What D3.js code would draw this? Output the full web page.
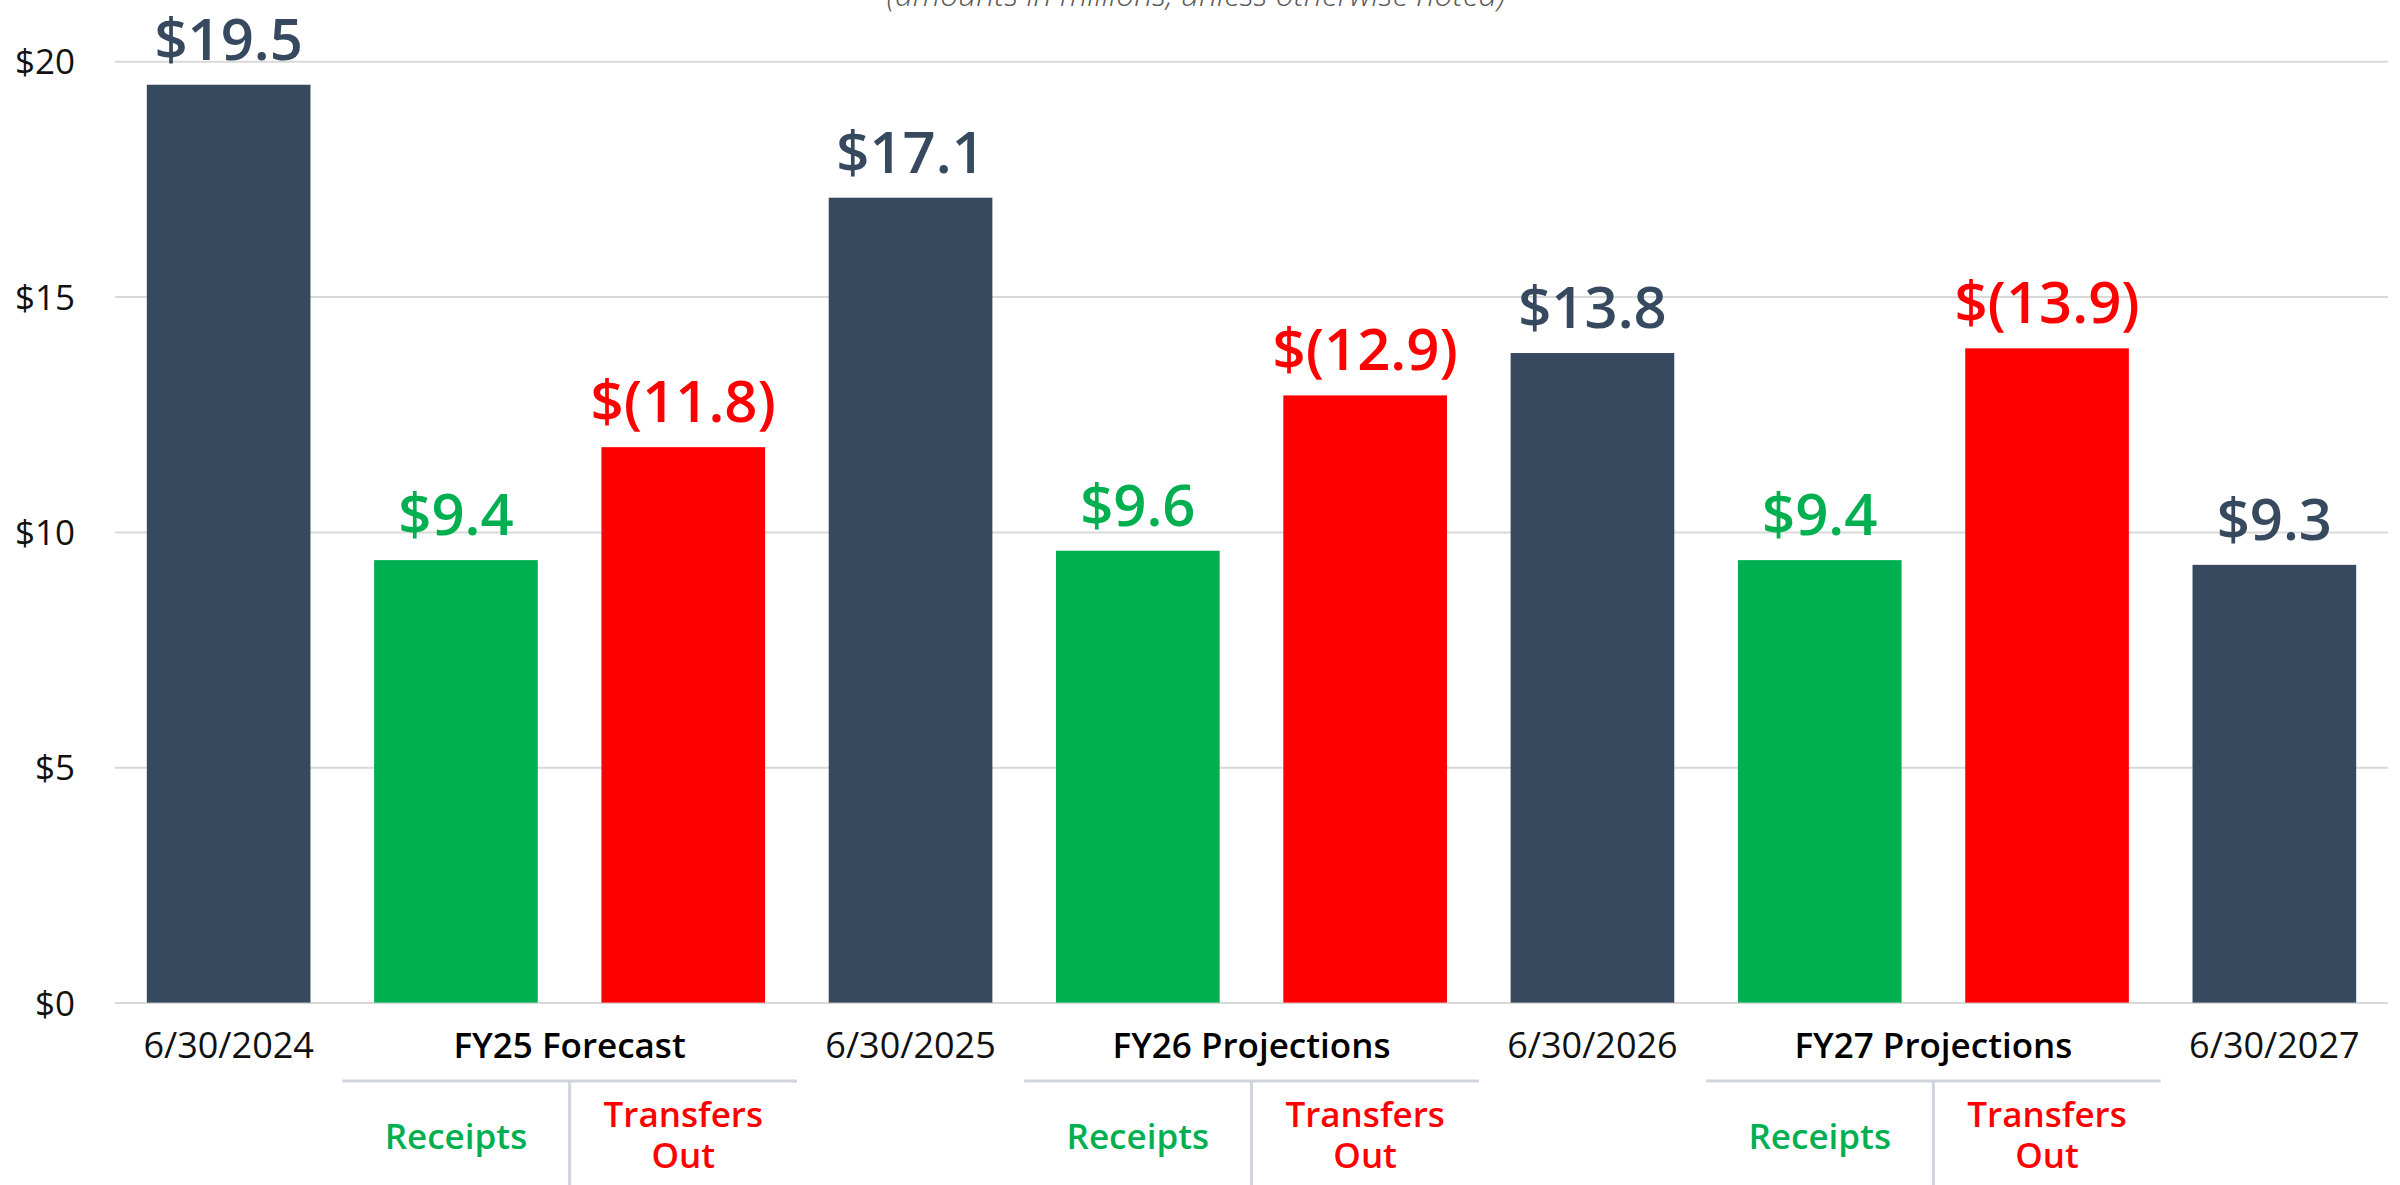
<!DOCTYPE html>
<html>
<head>
<meta charset="utf-8">
<script src="https://cdn.jsdelivr.net/npm/d3@7"></script>
<style>
  html, body { margin: 0; padding: 0; background: #fff; }
  svg { display: block; }
  text { font-family: "Open Sans", "Noto Sans", sans-serif; }
</style>
</head>
<body>
<svg id="chart" width="2400" height="1185"></svg>
<script>
// ---- data ----
const categories = ["6/30/2024", "FY25 Receipts", "FY25 Transfers Out", "6/30/2025",
                    "FY26 Receipts", "FY26 Transfers Out", "6/30/2026",
                    "FY27 Receipts", "FY27 Transfers Out", "6/30/2027"];
const values = [19.5, 9.4, 11.8, 17.1, 9.6, 12.9, 13.8, 9.4, 13.9, 9.3];
const kinds = ["balance", "receipt", "transfer", "balance", "receipt", "transfer",
               "balance", "receipt", "transfer", "balance"];
const valueLabels = ["$19.5", "$9.4", "$(11.8)", "$17.1", "$9.6", "$(12.9)",
                     "$13.8", "$9.4", "$(13.9)", "$9.3"];
const groupOf = [null, "FY25 Forecast", "FY25 Forecast", null, "FY26 Projections",
                 "FY26 Projections", null, "FY27 Projections", "FY27 Projections", null];
const groupLabels = ["FY25 Forecast", "FY26 Projections", "FY27 Projections"];
const subLabels = { receipt: ["Receipts"], transfer: ["Transfers", "Out"] };
const yTicks = [0, 5, 10, 15, 20];
const subtitle = "(amounts in millions, unless otherwise noted)";

// ---- styles ----
const colors = { balance: "#36495E", receipt: "#00B050", transfer: "#FF0000" };

const svg = d3.select("#chart");
const W = 2400, H = 1185;
const left = 115, right = 2388;

const x = d3.scaleBand().domain(categories).range([left, right])
  .paddingInner(0.28).paddingOuter(0.14);
const y = d3.scaleLinear().domain([0, 20]).range([1002.6, 61.2]);

// subtitle (cut off at top)
svg.append("text").attr("x", 1196).attr("y", 6)
  .attr("text-anchor", "middle").attr("font-style", "italic").attr("font-weight", 300)
  .attr("font-size", 32).attr("fill", "#595959").text(subtitle);

// gridlines + y labels
const yAxis = d3.axisLeft(y).tickValues(yTicks).tickSize(-(right - left))
  .tickFormat(d => "$" + d).tickPadding(40);
const gy = svg.append("g").attr("transform", `translate(${left},0)`).call(yAxis);
gy.select(".domain").remove();
gy.selectAll(".tick line").attr("stroke", "#D9D9D9").attr("stroke-width", 2);
gy.selectAll(".tick text").attr("font-size", 35).attr("font-weight", 400)
  .attr("fill", "#111").attr("dy", "0.36em");

// bars
svg.append("g").selectAll("rect").data(categories).join("rect")
  .attr("x", d => x(d)).attr("width", x.bandwidth())
  .attr("y", (d, i) => y(values[i]))
  .attr("height", (d, i) => y(0) - y(values[i]))
  .attr("fill", (d, i) => colors[kinds[i]]);

// value labels
svg.append("g").selectAll("text").data(categories).join("text")
  .attr("x", d => x(d) + x.bandwidth() / 2)
  .attr("y", (d, i) => y(values[i]) - 25)
  .attr("text-anchor", "middle").attr("font-size", 58).attr("font-weight", 600)
  .attr("fill", (d, i) => colors[kinds[i]])
  .text((d, i) => valueLabels[i]);

// date category labels
const catBase = 1058;
svg.append("g").selectAll("text")
  .data(categories.filter((d, i) => kinds[i] === "balance")).join("text")
  .attr("x", d => x(d) + x.bandwidth() / 2).attr("y", catBase)
  .attr("text-anchor", "middle").attr("font-size", 36).attr("font-weight", 400)
  .attr("fill", "#111").text(d => d);

// group labels and brackets
const step = x.step();
groupLabels.forEach(g => {
  const members = categories.filter((d, i) => groupOf[i] === g);
  const x0 = x(members[0]) - x.paddingInner() * step / 2;
  const x1 = x(members[members.length - 1]) + x.bandwidth() + x.paddingInner() * step / 2;
  const mid = (x0 + x1) / 2;
  svg.append("text").attr("x", mid).attr("y", catBase)
    .attr("text-anchor", "middle").attr("font-size", 35).attr("font-weight", 600)
    .attr("fill", "#000").text(g);
  svg.append("line").attr("x1", x0).attr("x2", x1).attr("y1", 1081).attr("y2", 1081)
    .attr("stroke", "#D0D4DE").attr("stroke-width", 3);
  svg.append("line").attr("x1", mid).attr("x2", mid).attr("y1", 1081).attr("y2", H)
    .attr("stroke", "#D0D4DE").attr("stroke-width", 3);
  members.forEach(m => {
    const i = categories.indexOf(m);
    const lines = subLabels[kinds[i]];
    const cx = x(m) + x.bandwidth() / 2;
    const t = svg.append("text").attr("text-anchor", "middle")
      .attr("font-size", 35).attr("font-weight", 600).attr("fill", colors[kinds[i]]);
    const base = lines.length === 1 ? 1149 : 1127;
    lines.forEach((l, k) => {
      t.append("tspan").attr("x", cx).attr("y", base + k * 41).text(l);
    });
  });
});
</script>
</body>
</html>
